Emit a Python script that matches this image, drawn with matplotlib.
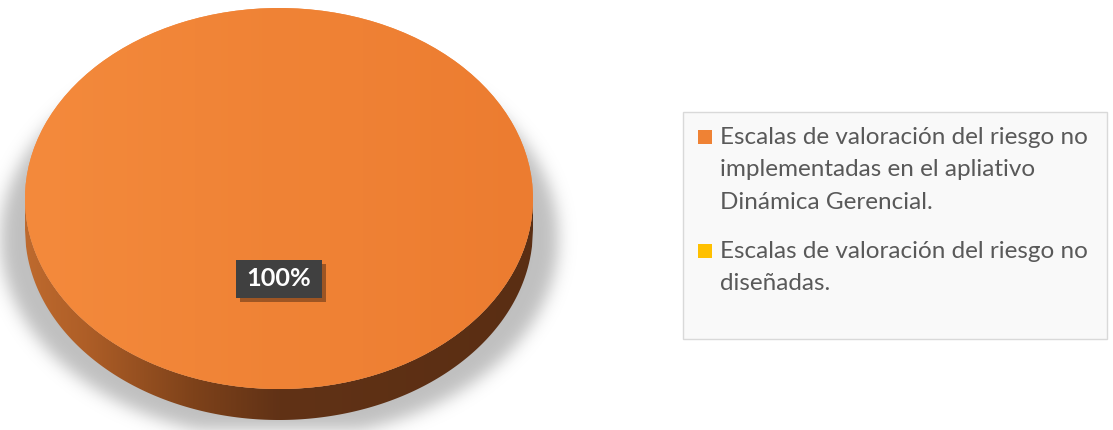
import numpy as np
import matplotlib
matplotlib.use("Agg")
import matplotlib.pyplot as plt
from matplotlib.patches import Rectangle, Polygon
from matplotlib.transforms import Affine2D
from matplotlib.colors import LinearSegmentedColormap
import matplotlib.patheffects as pe

# ---------------- data ----------------
categories = [
    "Escalas de valoración del riesgo no\nimplementadas en el apliativo\nDinámica Gerencial.",
    "Escalas de valoración del riesgo no\ndiseñadas.",
]
values = [100, 0]
colors = ["#EF8234", "#FFC000"]

# ---------------- layout ----------------
W, H = 1113, 430
cx, cy, rx, ry, thick = 279.0, 198.5, 254.0, 190.5, 31.0
FONT = ["Lato", "DejaVu Sans"]
TXT = "#595959"

fig = plt.figure(figsize=(W / 100, H / 100), dpi=100)
ax = fig.add_axes([0, 0, 1, 1])
ax.axis("off")
xlim = ((0 - cx) / rx, (W - cx) / rx)
ylim = ((cy - H) / ry, cy / ry)
pix = Affine2D().scale(1 / W, -1 / H).translate(0, 1) + fig.transFigure

# ---------------- soft shadow ----------------
yy, xx = np.mgrid[0:H, 0:W]
mask = (((xx - 279) / 279.0) ** 2 + ((yy - 238) / 200.0) ** 2 <= 1).astype(float)
sig = 8.0
k = np.exp(-0.5 * (np.arange(-30, 31) / sig) ** 2)
k /= k.sum()
blur = np.apply_along_axis(lambda r: np.convolve(r, k, mode="same"), 1, mask)
blur = np.apply_along_axis(lambda c: np.convolve(c, k, mode="same"), 0, blur)
shadow = np.zeros((H, W, 4))
shadow[..., :3] = 0.55
shadow[..., 3] = 0.55 * blur
ax.imshow(shadow, extent=(xlim[0], xlim[1], ylim[0], ylim[1]), origin="upper",
          aspect="auto", zorder=0.5, interpolation="bilinear")

# ---------------- pie top face ----------------
wedges, _, autotexts = ax.pie(
    values, colors=colors, startangle=90, counterclock=False, radius=1,
    center=(0, 0), autopct=lambda p: f"{p:.0f}%" if p > 0 else "",
    pctdistance=0.42, wedgeprops=dict(linewidth=0), frame=False,
)
for w in wedges:
    w.set_zorder(3)

# subtle shading on top face
g = np.linspace(0, 1, 256)[None, :]
shade_cmap = LinearSegmentedColormap.from_list("sh", ["#F58B3D", "#EC7C30"])
im = ax.imshow(np.repeat(g, 4, axis=0), cmap=shade_cmap, extent=(-1, 1, -1, 1),
               aspect="auto", zorder=3.5, alpha=0.9)
im.set_clip_path(wedges[0])

# ---------------- pie side (depth) ----------------
tt = thick / ry
u = np.linspace(-1, 1, 500)
vt = -np.sqrt(np.clip(1 - u ** 2, 0, None))
poly_pts = np.concatenate([np.c_[u, vt], np.c_[u[::-1], vt[::-1] - tt]])
side_poly = Polygon(poly_pts, closed=True, facecolor="none", edgecolor="none",
                    transform=ax.transData)
ax.add_patch(side_poly)
side_cmap = LinearSegmentedColormap.from_list(
    "side", [(0.0, "#BE6A2E"), (0.12, "#AE5E27"), (0.33, "#7E421A"),
             (0.5, "#613216"), (1.0, "#5A2E13")])
side = ax.imshow(np.repeat(g, 4, axis=0), cmap=side_cmap,
                 extent=(-1, 1, -1 - tt, 0), aspect="auto", zorder=2)
side.set_clip_path(side_poly)

# ---------------- data label ----------------
lab = autotexts[0]
lab.set_color("white")
lab.set_fontweight("bold")
lab.set_family(FONT)
lab.set_fontsize(20)
lab.set_zorder(7)
lab.set_ha("center")
lab.set_va("center")
box = Rectangle((236, 260), 86, 38, facecolor="#404040", edgecolor="none",
                transform=pix, zorder=6,
                path_effects=[pe.SimplePatchShadow(offset=(3, -3), alpha=0.45,
                                                   shadow_rgbFace="#3a2010"),
                              pe.Normal()])
ax.add_patch(box)

# ---------------- legend ----------------
ax.add_patch(Rectangle((683, 112), 424, 227, facecolor="#F9F9F9",
                       edgecolor="#D9D9D9", lw=1.0, transform=pix, zorder=4))
first_baselines = [144, 258]
step = 32.5
legend_texts = []
for cat, col, b0 in zip(categories, colors, first_baselines):
    ax.add_patch(Rectangle((698, b0 - 14.5), 14, 14, facecolor=col,
                           edgecolor="none", transform=pix, zorder=5))
    for i, line in enumerate(cat.split("\n")):
        t = ax.text(720, b0 + i * step, line, transform=pix, ha="left",
                    va="baseline", color=TXT, family=FONT, fontsize=16,
                    zorder=5)
        legend_texts.append(t)

ax.set_xlim(*xlim)
ax.set_ylim(*ylim)
ax.set_aspect("auto")

# fit font sizes to the reference widths
fig.canvas.draw()
r = fig.canvas.get_renderer()
wl = legend_texts[0].get_window_extent(r).width
fs = 16 * 369.0 / wl
for t in legend_texts:
    t.set_fontsize(fs)
wlab = lab.get_window_extent(r).width
lab.set_fontsize(20 * 65.0 / wlab)

fig.savefig("out.png", dpi=100, facecolor="white")
